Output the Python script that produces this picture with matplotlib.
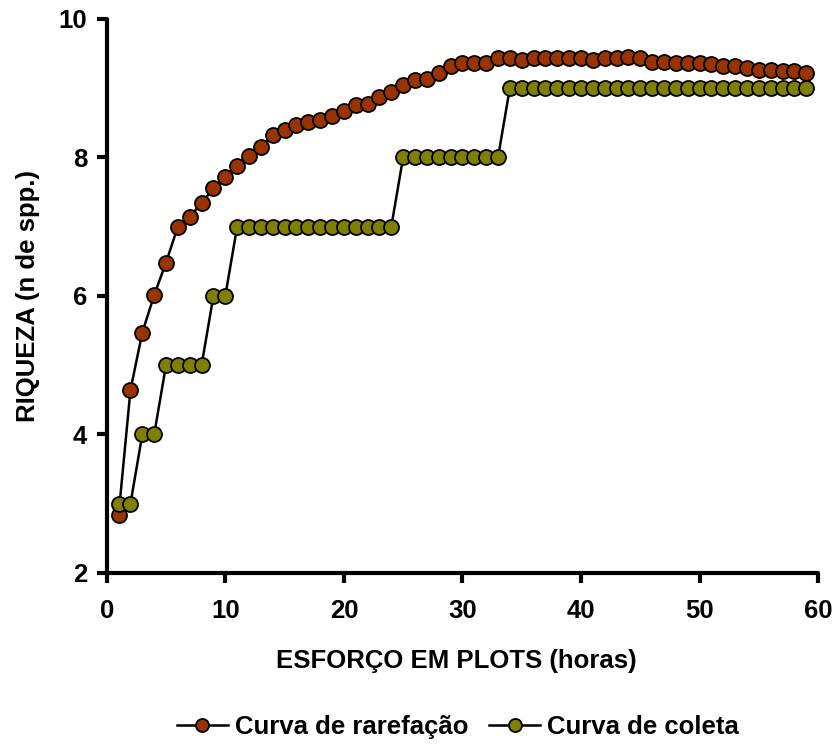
import matplotlib
matplotlib.use('Agg')
import matplotlib.pyplot as plt
import numpy as np

plt.rcParams['font.family'] = ['Liberation Sans', 'DejaVu Sans']
plt.rcParams['font.weight'] = 'bold'

# dados
horas = np.arange(1, 60)
rarefacao = [2.84, 4.64, 5.47, 6.01, 6.48, 7.00, 7.14, 7.34, 7.55, 7.72,
             7.88, 8.02, 8.15, 8.32, 8.40, 8.46, 8.51, 8.53, 8.60, 8.66,
             8.75, 8.77, 8.87, 8.94, 9.04, 9.11, 9.13, 9.22, 9.31, 9.36,
             9.36, 9.36, 9.43, 9.43, 9.41, 9.43, 9.43, 9.43, 9.43, 9.43,
             9.41, 9.43, 9.43, 9.45, 9.43, 9.38, 9.38, 9.36, 9.36, 9.36,
             9.34, 9.31, 9.31, 9.29, 9.26, 9.26, 9.24, 9.24, 9.22]
coleta = [3, 3, 4, 4, 5, 5, 5, 5, 6, 6] + [7] * 14 + [8] * 9 + [9] * 26

FS = 18.5

fig = plt.figure(figsize=(8.34, 7.46), dpi=100)
ax = fig.add_axes([0.128, 0.232, 0.853, 0.743])

ax.plot(horas, rarefacao, '-o', color='black', lw=1.8, ms=10.8,
        mfc='#993300', mec='black', mew=1.3, label='Curva de rarefação', clip_on=False, zorder=3)
ax.plot(horas, coleta, '-o', color='black', lw=1.8, ms=10.8,
        mfc='#808000', mec='black', mew=1.3, label='Curva de coleta', clip_on=False, zorder=3)

ax.set_xlim(0, 60); ax.set_ylim(2, 10)
ax.set_xticks(range(0, 61, 10)); ax.set_yticks(range(2, 11, 2))
for s in ['top', 'right']:
    ax.spines[s].set_visible(False)
for s in ['left', 'bottom']:
    ax.spines[s].set_linewidth(3)
    ax.spines[s].set_capstyle('round')
ax.tick_params(direction='out', length=7, width=3, labelsize=FS)
ax.tick_params(axis='x', pad=12)
ax.tick_params(axis='y', pad=7)
for lab in ax.get_xticklabels() + ax.get_yticklabels():
    lab.set_fontweight('bold')

ax.set_xlabel('ESFORÇO EM PLOTS (horas)', fontsize=FS, fontweight='bold', va='center')
ax.set_ylabel('RIQUEZA (n de spp.)', fontsize=FS, fontweight='bold', va='center')
ax.xaxis.set_label_coords(0.491, -0.159)
ax.yaxis.set_label_coords(-0.11, 0.5)

fig.legend(loc='center', bbox_to_anchor=(0.549, 0.026), ncol=2, frameon=False,
           prop={'size': FS, 'weight': 'bold'}, handlelength=2.0, handletextpad=0.27,
           columnspacing=0.8, markerscale=0.87)

fig.savefig('out.png', dpi=100)
